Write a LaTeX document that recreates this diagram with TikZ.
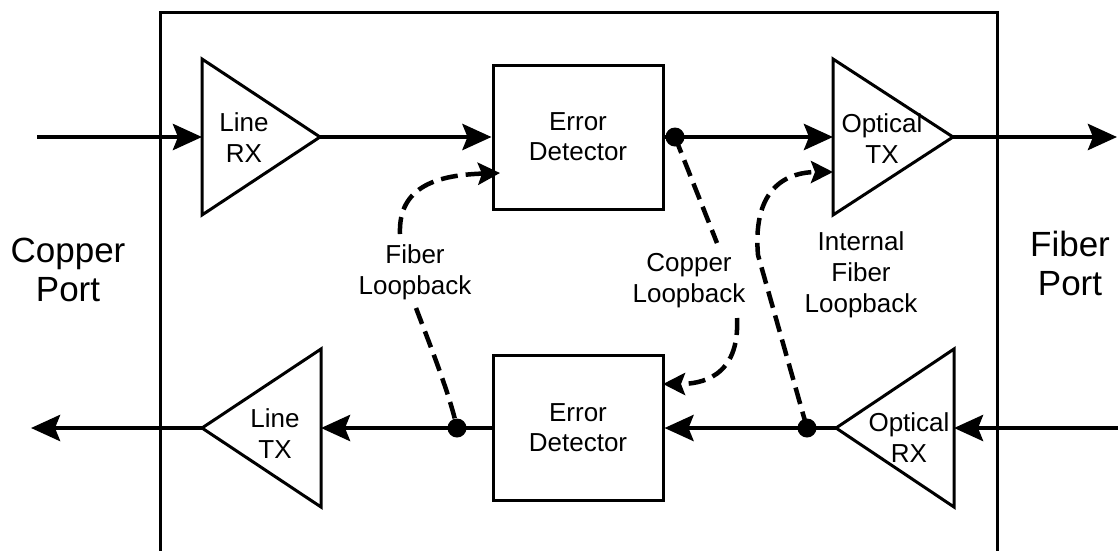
\documentclass[tikz,border=0pt]{standalone}
\usepackage{fontspec}
\setmainfont{Liberation Sans}
\usetikzlibrary{arrows.meta}
\begin{document}
\begin{tikzpicture}[x=1pt,y=-1pt,
  sig/.style={line width=4.5pt,-{Stealth[length=29pt,width=26pt,inset=5pt]}},
  plain/.style={line width=4.5pt},
  loop/.style={line width=4.5pt,dash pattern=on 17pt off 8pt,-{Stealth[length=22pt,width=22pt,inset=4pt]}},
  loopline/.style={line width=4.5pt,dash pattern=on 17pt off 8pt},
  blk/.style={draw,line width=3pt,minimum width=170pt,minimum height=144pt,inner sep=0pt,align=center,font=\fontsize{26}{30}\selectfont},
  amp/.style={line width=3pt,line join=miter},
  lbl/.style={align=center,font=\fontsize{26}{31}\selectfont,inner sep=0pt},
  big/.style={align=center,font=\fontsize{35}{39}\selectfont,inner sep=0pt},
  dot/.style={circle,fill,inner sep=0pt,minimum size=19pt}]
\useasboundingbox (0,0) rectangle (1118,550);
% outer frame
\draw[line width=3pt] (160,560) -- (160,12) -- (997,12) -- (997,560);

% coordinates
\coordinate (cpin) at (37,137);
\coordinate (lrxT) at (202,59);
\coordinate (lrxB) at (202,215);
\coordinate (lrxIn) at (202,137);
\coordinate (lrxOut) at (320,137);
\coordinate (otxT) at (833,59);
\coordinate (otxB) at (833,215);
\coordinate (otxIn) at (833,137);
\coordinate (otxOut) at (953,137);
\coordinate (otxLoop) at (833,172);
\coordinate (fout) at (1117,137);
\coordinate (fin) at (1118,428);
\coordinate (orxT) at (954,349);
\coordinate (orxB) at (954,507);
\coordinate (orxIn) at (954,428);
\coordinate (orxOut) at (836,428);
\coordinate (ltxT) at (321,349);
\coordinate (ltxB) at (321,507);
\coordinate (ltxIn) at (321,428);
\coordinate (ltxOut) at (202,428);
\coordinate (cpout) at (31,428);

% blocks
\node[blk] (edt) at (578,137) {Error\\Detector};
\node[blk,minimum height=145pt] (edb) at (578,428) {Error\\Detector};

% amplifiers
\draw[amp] (lrxT) -- (lrxOut) -- (lrxB) -- cycle;
\draw[amp] (otxT) -- (otxOut) -- (otxB) -- cycle;
\draw[amp] (orxT) -- (orxOut) -- (orxB) -- cycle;
\draw[amp] (ltxT) -- (ltxOut) -- (ltxB) -- cycle;
\node[lbl] (lrxL) at (244,138) {Line\\RX};
\node[lbl] (otxL) at (882,139) {Optical\\TX};
\node[lbl] (orxL) at (909,438) {Optical\\RX};
\node[lbl] (ltxL) at (275,434) {Line\\TX};

% junction dots
\node[dot] (d1) at (675,137) {};
\node[dot] (d2) at (807,428) {};
\node[dot] (d3) at (457,428) {};

% signal paths
\draw[sig] (cpin) -- (lrxIn);
\draw[sig] (lrxOut) -- (edt.west);
\draw[plain] (edt.east) -- (d1.center);
\draw[sig] (d1.center) -- (otxIn);
\draw[sig] (otxOut) -- (fout);
\draw[sig] (fin) -- (orxIn);
\draw[plain] (orxOut) -- (d2.center);
\draw[sig] (d2.center) -- (edb.east);
\draw[plain] (edb.west) -- (d3.center);
\draw[sig] (d3.center) -- (ltxIn);
\draw[sig] (ltxOut) -- (cpout);

% labels
\node[big] (cport) at (68,270) {Copper\\Port};
\node[big] (fport) at (1070,263) {Fiber\\Port};
\node[lbl] (fll) at (415,272) {Fiber\\Loopback};
\node[lbl] (cll) at (689,281) {Copper\\Loopback};
\node[lbl] (ifl) at (861,275) {Internal\\Fiber\\Loopback};

% loopback paths
\coordinate (f1) at (416,308);
\coordinate (f2) at (400,234);
\coordinate (edtIn) at (500,173);
\draw[loopline] (f1) .. controls (430,345) and (450,395) .. (d3.center);
\draw[loop] (f2) .. controls (398,185) and (440,175) .. (edtIn);

\coordinate (c1) at (717,243);
\coordinate (c2) at (737,318);
\coordinate (edbIn) at (663,384);
\draw[loopline] (d1.center) -- (c1);
\draw[loop] (c2) .. controls (740,378) and (700,384) .. (edbIn);

\coordinate (i1) at (758,255);
\draw[loop] (d2.center) -- (i1) .. controls (752,185) and (790,172) .. (otxLoop);
\end{tikzpicture}
\end{document}
